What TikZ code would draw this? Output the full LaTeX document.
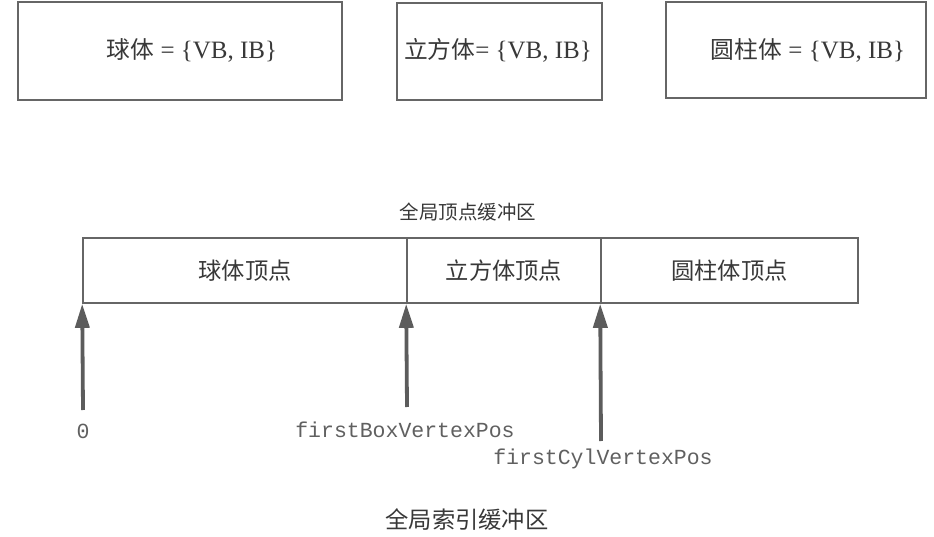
\documentclass[tikz,border=0pt]{standalone}
\usepackage{fontspec}
\setmainfont{Liberation Serif}
\setmonofont{Liberation Mono}
\newfontfamily\cjk{Noto Sans CJK SC}[Scale=0.95]
\usetikzlibrary{arrows.meta}
\definecolor{linecol}{gray}{0.40}
\definecolor{txtcol}{gray}{0.22}
\definecolor{arrcol}{gray}{0.36}
\tikzset{
  objbox/.style={draw=linecol, line width=1.6pt, rectangle, inner sep=0pt},
  cell/.style={draw=linecol, line width=1.6pt, rectangle, inner sep=0pt, minimum height=65pt, font=\fontsize{24.5}{28}\selectfont\cjk, text=txtcol},
  lbl/.style={font=\fontsize{25}{28}\selectfont, text=txtcol, inner sep=0pt},
  title/.style={font=\fontsize{20.5}{24}\selectfont\cjk, text=txtcol, inner sep=0pt},
  code/.style={font=\fontsize{21.5}{24}\selectfont\ttfamily, text=txtcol!80, inner sep=0pt},
  ptr/.style={draw=arrcol, line width=3.8pt, -{Triangle[length=24pt,width=14pt]}},
}
\begin{document}
\begin{tikzpicture}[x=1pt,y=-1pt]
\useasboundingbox (0,0) rectangle (934,537);
% object boxes
\node[objbox, minimum width=324pt, minimum height=98pt] (sphere) at (180,51) {};
\node[objbox, minimum width=205pt, minimum height=97pt] (box) at (499.5,51.5) {};
\node[objbox, minimum width=260pt, minimum height=96pt] (cyl) at (796,50) {};
\node[lbl] (sphereT) at (192,50) {{\cjk 球体} = \{VB, IB\}};
\node[lbl] (boxT) at (498,50) {{\cjk 立方体}= \{VB, IB\}};
\node[lbl] (cylT) at (808,50) {{\cjk 圆柱体} = \{VB, IB\}};
% vertex buffer
\node[title] (vbT) at (468,212) {全局顶点缓冲区};
\node[cell, minimum width=324pt] (c1) at (245,270.5) {球体顶点};
\node[cell, minimum width=194pt] (c2) at (504,270.5) {立方体顶点};
\node[cell, minimum width=257pt] (c3) at (729.5,270.5) {圆柱体顶点};
% pointers
\coordinate (t1) at (83,410);
\coordinate (t2) at (407,407);
\coordinate (t3) at (601,441);
\draw[ptr] (t1) -- (c1.south west);
\draw[ptr] (t2) -- (c2.south west);
\draw[ptr] (t3) -- (c3.south west);
\node[code] (l1) at (83,431) {0};
\node[code] (l2) at (405,430) {firstBoxVertexPos};
\node[code] (l3) at (603,459) {firstCylVertexPos};
\node[title, font=\fontsize{24.5}{28}\selectfont\cjk] (ibT) at (467,520) {全局索引缓冲区};
\end{tikzpicture}
\end{document}
